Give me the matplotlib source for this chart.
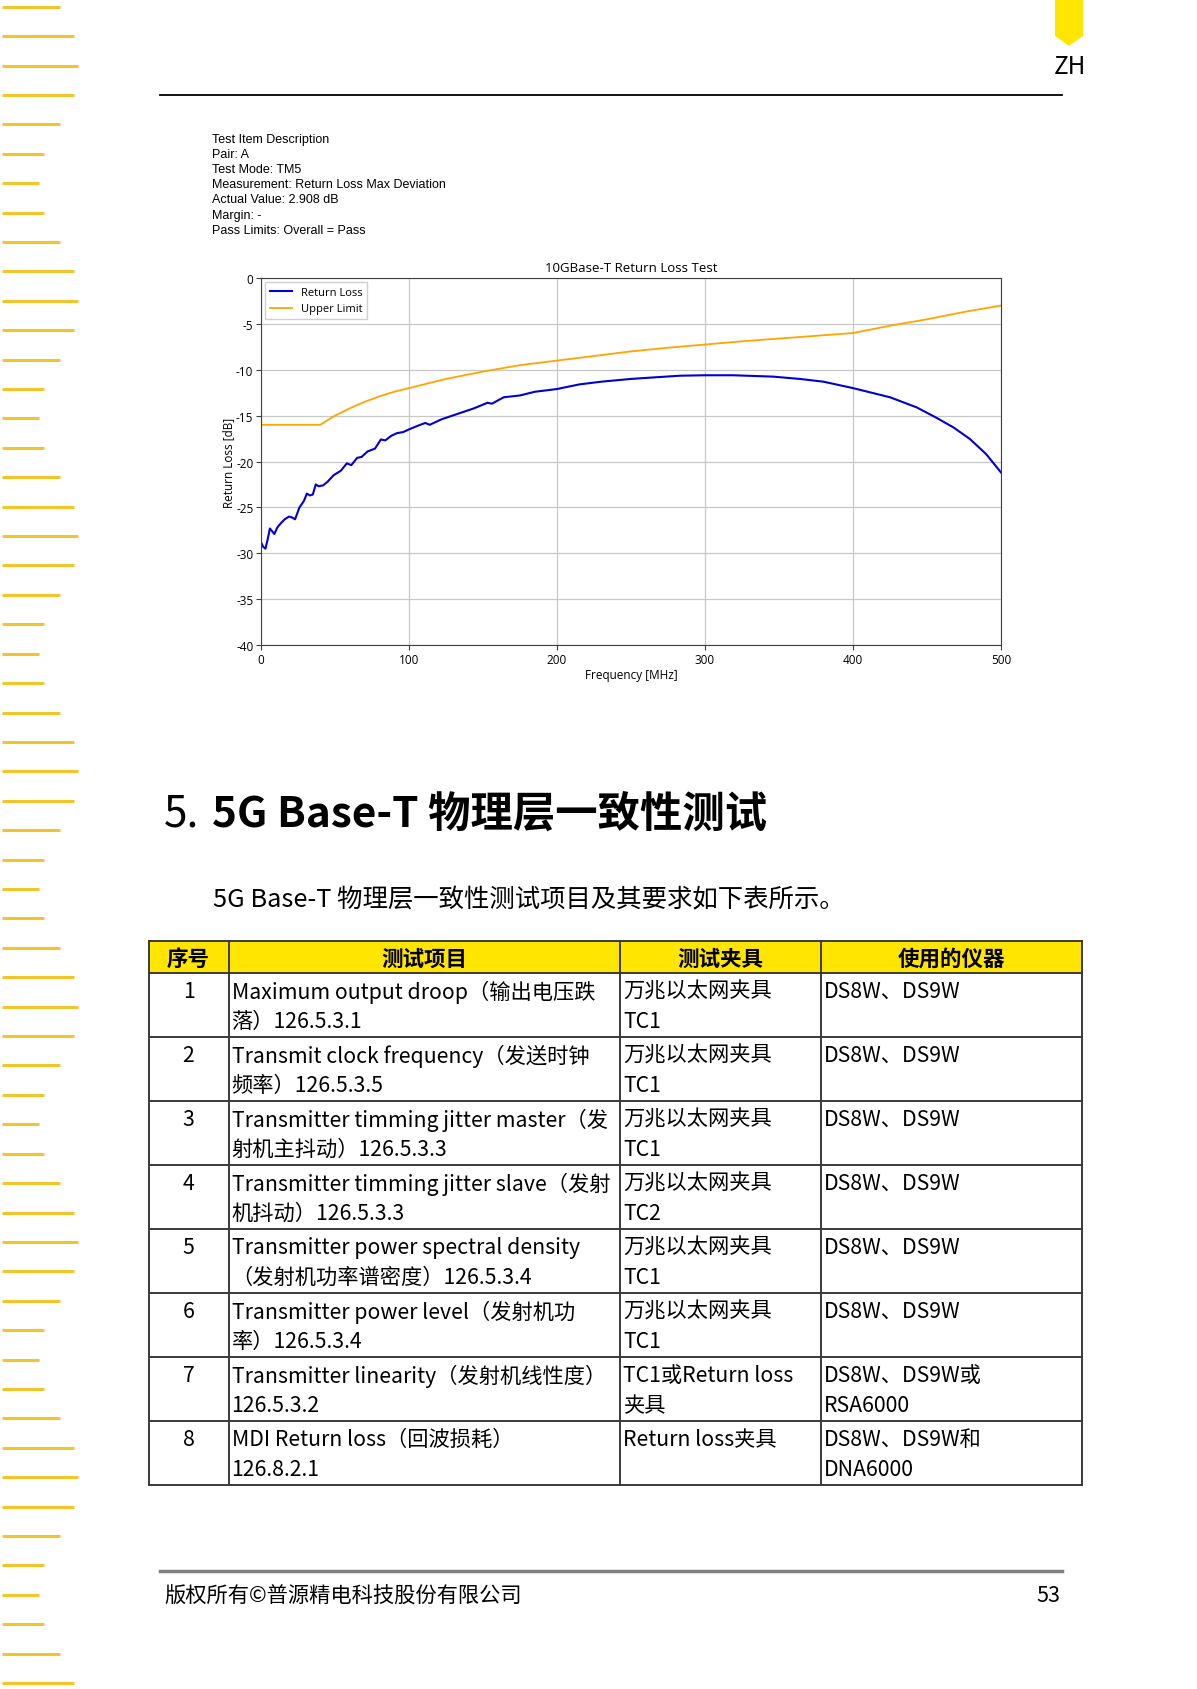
import matplotlib
matplotlib.use("Agg")
import matplotlib.pyplot as plt
from matplotlib.patches import Rectangle, Polygon

plt.rcParams["axes.unicode_minus"] = False

# ---- chart data ----
f_rl = [0, 1.5, 3, 4.5, 6, 7.5, 9, 11, 13, 16, 19, 21, 23, 26, 29, 31, 33, 35, 37, 39,
        42, 45, 49, 54, 58, 61, 65, 68, 72, 77, 81, 84, 88, 92, 96, 100, 106, 111, 114, 122,
        133, 144, 153, 156, 164, 175, 185, 200, 215, 230, 250, 264, 283, 300, 319, 346, 364, 380,
        400, 425, 443, 456, 468, 479, 490, 500]
return_loss = [-28.8, -29.3, -29.5, -28.5, -27.3, -27.6, -27.9, -27.2, -26.8, -26.3,
               -26.0, -26.1, -26.3, -25.0, -24.3, -23.5, -23.7, -23.6, -22.5, -22.7,
               -22.6, -22.2, -21.5, -21.0, -20.2, -20.4, -19.6, -19.5, -18.9, -18.6,
               -17.6, -17.7, -17.2, -16.9, -16.8, -16.5, -16.1, -15.8, -16.0, -15.4,
               -14.8, -14.2, -13.6, -13.7, -13.0, -12.8, -12.4, -12.1, -11.6, -11.3,
               -11.0, -10.85, -10.65, -10.6, -10.6, -10.75, -11.0, -11.3,
               -12.0, -13.0, -14.1, -15.2, -16.3, -17.55, -19.2, -21.2]

f_ul = [0, 40, 50, 60, 70, 80, 90, 100, 125, 150, 175, 200, 225, 250, 275, 300,
        325, 350, 375, 400, 425, 450, 475, 500]
upper_limit = [-16, -16, -15.0, -14.2, -13.5, -12.9, -12.4, -12.0, -11.0, -10.2, -9.5, -9.0,
               -8.5, -8.0, -7.6, -7.25, -6.9, -6.6, -6.3, -6.0, -5.2, -4.5, -3.7, -3.0]

x_ticks = [0, 100, 200, 300, 400, 500]
y_ticks = [0, -5, -10, -15, -20, -25, -30, -35, -40]

desc_lines = ["Test Item Description", "Pair: A", "Test Mode: TM5",
              "Measurement: Return Loss Max Deviation", "Actual Value: 2.908 dB",
              "Margin: -", "Pass Limits: Overall = Pass"]

# ---- table data ----
headers = ["序号", "测试项目", "测试夹具", "使用的仪器"]
row_no = ["1", "2", "3", "4", "5", "6", "7", "8"]
items = ["Maximum output droop（输出电压跌\n落）126.5.3.1",
         "Transmit clock frequency（发送时钟\n频率）126.5.3.5",
         "Transmitter timming jitter master（发\n射机主抖动）126.5.3.3",
         "Transmitter timming jitter slave（发射\n机抖动）126.5.3.3",
         "Transmitter power spectral density\n（发射机功率谱密度）126.5.3.4",
         "Transmitter power level（发射机功\n率）126.5.3.4",
         "Transmitter linearity（发射机线性度）\n126.5.3.2",
         "MDI Return loss（回波损耗）\n126.8.2.1"]
fixtures = ["万兆以太网夹具\nTC1", "万兆以太网夹具\nTC1", "万兆以太网夹具\nTC1",
            "万兆以太网夹具\nTC2", "万兆以太网夹具\nTC1", "万兆以太网夹具\nTC1",
            "TC1或Return loss\n夹具", "Return loss夹具"]
instruments = ["DS8W、DS9W", "DS8W、DS9W", "DS8W、DS9W", "DS8W、DS9W",
               "DS8W、DS9W", "DS8W、DS9W", "DS8W、DS9W或\nRSA6000", "DS8W、DS9W和\nDNA6000"]

W, H = 1197, 1690
CJK = ["Noto Sans CJK SC", "DejaVu Sans"]
YELLOW = "#FFE500"

fig = plt.figure(figsize=(W / 100, H / 100), dpi=100)
page = fig.add_axes([0, 0, 1, 1])
page.set_xlim(0, W)
page.set_ylim(H, 0)
page.axis("off")

# left margin dashes
dash_len = [58, 72, 76, 72, 58, 42, 37, 42]
y = 7.7
i = 0
while y < H:
    page.plot([2, 2 + dash_len[i % 8]], [y, y], color="#F2C52A", lw=2.2, solid_capstyle="butt")
    y += 29.41
    i += 1

# header
page.add_patch(Polygon([[1055, 0], [1083, 0], [1083, 37], [1069, 47], [1055, 37]],
                       closed=True, color=YELLOW, lw=0))
page.text(1070, 67, "ZH", fontsize=17.5, family=CJK, ha="center", va="center")
page.plot([160, 1062], [96, 96], color="black", lw=1.3)

# description block
for k, line in enumerate(desc_lines):
    page.text(212, 139.5 + k * 15.2, line, fontsize=9, family="Liberation Sans",
              ha="left", va="center")

# ---- chart ----
ax = fig.add_axes([261 / W, 1 - 646 / H, 740 / W, 367 / H])
ax.plot(f_rl, return_loss, color="#0000D0", lw=1.5, label="Return Loss")
ax.plot(f_ul, upper_limit, color="#FFA500", lw=1.3, label="Upper Limit")
ax.set_xlim(0, 500)
ax.set_ylim(-40, 0)
ax.set_xticks(x_ticks)
ax.set_yticks(y_ticks)
ax.grid(True, color="#C8C8C8", lw=0.9)
ax.tick_params(labelsize=8.5, length=3.5, pad=2, color="#404040")
for lab in ax.get_xticklabels() + ax.get_yticklabels():
    lab.set_family("Open Sans")
for s in ax.spines.values():
    s.set_color("#404040")
ax.set_title("10GBase-T Return Loss Test", fontsize=9.5, family="Open Sans", pad=5)
ax.set_xlabel("Frequency [MHz]", fontsize=8.5, family="Open Sans", labelpad=2)
ax.set_ylabel("Return Loss [dB]", fontsize=8.5, family="Open Sans", labelpad=1)
leg = ax.legend(loc="upper left", prop={"family": "Open Sans", "size": 8},
                framealpha=1, edgecolor="#D0D0D0", fancybox=False, borderaxespad=0.4)

# ---- section heading ----
page.text(164, 815, "5.", fontsize=30.5, family=CJK, ha="left", va="center")
page.text(212, 815, "5G Base-T 物理层一致性测试", fontsize=30.5, family=CJK,
          weight="bold", ha="left", va="center")
page.text(213, 900, "5G Base-T 物理层一致性测试项目及其要求如下表所示。", fontsize=18.3,
          family=CJK, ha="left", va="center")

# ---- table ----
col_x = [148.5, 228.6, 620, 821, 1082]
head_top, head_bot = 942, 974
row_h = 64
n = len(row_no)
bottom = head_bot + n * row_h
page.add_patch(Rectangle((col_x[0], head_top), col_x[-1] - col_x[0], head_bot - head_top,
                         color=YELLOW, lw=0))
lc = "#3A3A3A"
for yy in [head_top, head_bot] + [head_bot + r * row_h for r in range(1, n + 1)]:
    page.plot([col_x[0], col_x[-1]], [yy, yy], color=lc, lw=1.4)
for xx in col_x:
    page.plot([xx, xx], [head_top, bottom], color=lc, lw=1.4)
for c, h in enumerate(headers):
    page.text((col_x[c] + col_x[c + 1]) / 2, (head_top + head_bot) / 2 + 1, h, fontsize=15.5,
              family=CJK, weight="bold", ha="center", va="center")
for r in range(n):
    top = head_bot + r * row_h
    page.text((col_x[0] + col_x[1]) / 2, top + 18, row_no[r], fontsize=15.3, family=CJK,
              ha="center", va="center")
    for c, cell in enumerate([items[r], fixtures[r], instruments[r]]):
        for k, line in enumerate(cell.split("\n")):
            page.text(col_x[c + 1] + 3, top + 18 + k * 30, line, fontsize=15.3, family=CJK,
                      ha="left", va="center")

# ---- footer ----
page.plot([160, 1062], [1572, 1572], color="#808080", lw=2.5)
page.text(164, 1596, "版权所有©普源精电科技股份有限公司", fontsize=15.3, family=CJK,
          ha="left", va="center")
page.text(1060, 1596, "53", fontsize=15.5, family=CJK, ha="right", va="center")

fig.savefig("out.png", dpi=100)
